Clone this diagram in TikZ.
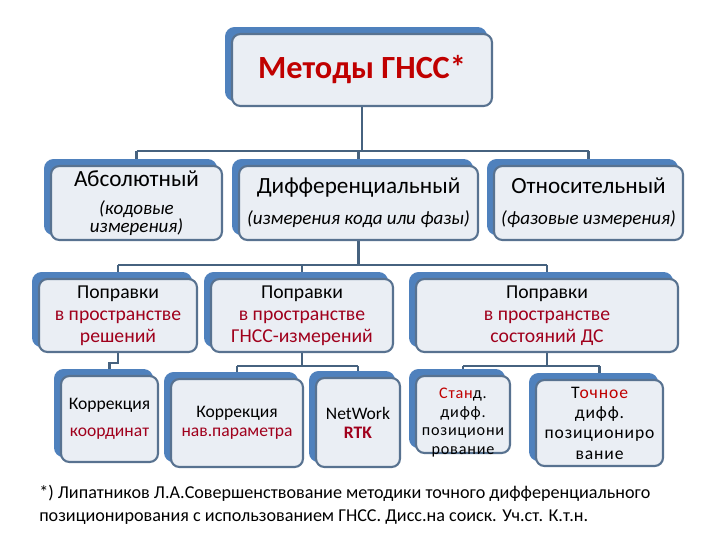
\documentclass[tikz,border=0pt]{standalone}
\usepackage{fontspec}
\setmainfont{Carlito}
\usetikzlibrary{shadows, backgrounds}
\definecolor{cblue}{HTML}{4F81BD}
\definecolor{cframe}{HTML}{587290}
\definecolor{cfill}{HTML}{EAEEF4}
\definecolor{cline}{HTML}{46627F}
\definecolor{cred}{HTML}{C00000}
\definecolor{cdred}{HTML}{A0001C}
\newlength{\pxl}\setlength{\pxl}{0.025cm}
\newcommand{\mainf}{\fontsize{16.5}{18}\selectfont\upshape}
\newcommand{\subf}{\fontsize{13.5}{13}\selectfont\itshape}
\newcommand{\corf}{\fontsize{14}{15.5}\selectfont}
\newcommand{\kf}{\fontsize{12.5}{13.5}\selectfont}
\tikzset{
  every picture/.style={x=\pxl, y=-\pxl},
  gbox/.style 2 args={draw=cframe, fill=cfill, line width=1.5pt, rounded corners=6pt, align=center, inner sep=1pt,
    minimum width=#1*\pxl, minimum height=#2*\pxl,
    copy shadow={fill=cblue, draw=cblue, shadow xshift=-4.2pt, shadow yshift=4.2pt}},
  ttl/.style={font=\fontsize{23}{26}\selectfont\bfseries, text=cred},
  link/.style={draw=cline, line width=1.6pt},
  spaced/.style 2 args={font=\fontsize{#1}{#2}\selectfont\addfontfeatures{LetterSpace=5}},
  note/.style={font=\fontsize{12.9}{16.3}\selectfont, align=left, inner sep=0pt},
}

\begin{document}
\begin{tikzpicture}
  \useasboundingbox (0,0) rectangle (720,540);
  % top box
  \node[gbox={260}{72}, ttl] (gnss) at (362,70) {Методы ГНСС*};
  % first row
  \node[gbox={171}{74}, font=\subf] (abs) at (136.5,203) {{\mainf Абсолютный}\\[7pt](кодовые\\измерения)};
  \node[gbox={239}{74}, font=\subf] (diff) at (358.5,203) {{\mainf Дифференциальный}\\[9pt](измерения кода или фазы)};
  \node[gbox={189}{74}, font=\subf] (otn) at (588.5,203) {{\mainf Относительный}\\[9pt](фазовые измерения)};
  % second row
  \node[gbox={158}{73}, font=\corf] (sol) at (118,315.5) {Поправки\\\textcolor{cdred}{в пространстве}\\\textcolor{cdred}{решений}};
  \node[gbox={182}{73}, font=\corf] (meas) at (302,315.5) {Поправки\\\textcolor{cdred}{в пространстве}\\\textcolor{cdred}{ГНСС-измерений}};
  \node[gbox={262}{73}, font=\corf] (state) at (547,315.5) {Поправки\\\textcolor{cdred}{в пространстве}\\\textcolor{cdred}{состояний ДС}};
  % third row
  \node[gbox={97}{86}, font=\kf] (crd) at (109.5,419) {Коррекция\\[5.5pt]\textcolor{cdred}{координат}};
  \node[gbox={132}{88}, font=\kf] (nav) at (237,423) {Коррекция\\\textcolor{cdred}{нав.параметра}};
  \node[gbox={84}{89}, font=\kf] (rtk) at (358,422.5) {NetWork\\\textcolor{cdred}{\textbf{RTK}}};
  \node[gbox={94}{77}] (std) at (463,414.5) {};
  \node[spaced={11.5}{13.3}, align=center] (stdtxt) at ([yshift=-5.7pt]std.center) {\textcolor{cred}{Стан}д.\\дифф.\\позициони\\рование};
  \node[gbox={127}{86}, spaced={12.5}{14.5}] (prc) at (599.5,423) {Т\textcolor{cred}{очное}\\дифф.\\позициониро\\вание};
  % footnote
  \node[note, anchor=north west] (ref) at (39,485) {*) Липатников Л.А.Совершенствование методики точного дифференциального\\позиционирования с использованием ГНСС. Дисс.на соиск. Уч.ст. К.т.н.};
  % connectors
  \begin{scope}[on background layer]
    \fill[white] (0,0) rectangle (720,540);
    \coordinate (bus1) at (0,151);
    \coordinate (bus2) at (0,265);
    \coordinate (bus3) at (0,366);
    \draw[link] (gnss.south) -- (gnss.south |- bus1);
    \draw[link] (abs.north |- bus1) -- (otn.north |- bus1);
    \foreach \n in {abs,diff,otn}
      \draw[link] (\n.north |- bus1) -- (\n.north);
    \draw[link] (diff.south) -- (diff.south |- bus2);
    \draw[link] (sol.north |- bus2) -- (state.north |- bus2);
    \foreach \n in {sol,meas,state}
      \draw[link] (\n.north |- bus2) -- (\n.north);
    \draw[link] (sol.south) -- ++(0,10) -| (crd.north);
    \draw[link] (meas.south) -- (meas.south |- bus3);
    \draw[link] (nav.north |- bus3) -- (rtk.north |- bus3);
    \draw[link] (state.south) -- (state.south |- bus3);
    \draw[link] (std.north |- bus3) -- (prc.north |- bus3);
    \foreach \n in {nav,rtk,std,prc}
      \draw[link] (\n.north |- bus3) -- (\n.north);
  \end{scope}
\end{tikzpicture}
\end{document}
